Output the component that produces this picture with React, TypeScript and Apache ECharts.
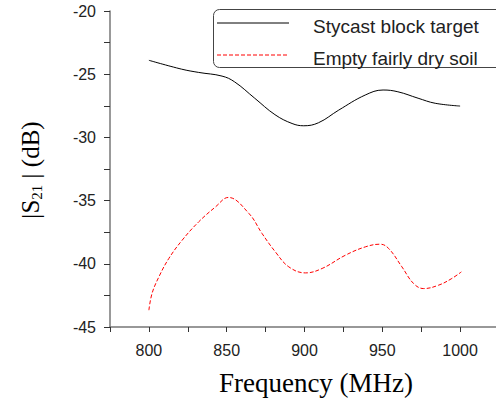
import React, { useEffect, useRef } from "react";
import * as echarts from "echarts";

const seriesNames = ["Stycast block target", "Empty fairly dry soil"];

const stycastFreq = [800, 821, 832, 847, 855, 868, 881, 892, 899.5, 909, 922, 939, 950.5, 960, 973, 984, 1000];
const stycastVals = [-23.9, -24.6, -24.86, -25.15, -25.6, -26.9, -28.2, -28.9, -29.08, -28.84, -27.84, -26.65, -26.25, -26.39, -26.9, -27.3, -27.52];

const soilFreq = [800, 802, 806.4, 812.8, 821.4, 832, 842.8, 851, 864.3, 872.7, 881.3, 889.9, 900.6, 911.3, 926.3, 939.1, 948.7, 954.1, 962.6, 970.1, 976.6, 986.2, 994.7, 1000.8];
const soilVals = [-43.67, -42.35, -41.04, -39.58, -38.13, -36.68, -35.5, -34.75, -36.02, -37.6, -39.06, -40.24, -40.72, -40.37, -39.32, -38.66, -38.45, -38.79, -40.24, -41.56, -41.96, -41.69, -41.16, -40.64];

const xTickLabels = [800, 850, 900, 950, 1000];
const yTickLabels = [-45, -40, -35, -30, -25, -20];

const sans = "'Liberation Sans', Arial, Helvetica, sans-serif";
const serif = "'Liberation Serif', 'Times New Roman', serif";

export default function App() {
  const ref = useRef<HTMLDivElement>(null);
  useEffect(() => {
    if (!ref.current) return;
    const chart = echarts.init(ref.current, undefined, { renderer: "svg" });
    const pair = (xs: number[], ys: number[]) => xs.map((x, i) => [x, ys[i]]);
    chart.setOption({
      animation: false,
      backgroundColor: "#fff",
      grid: { left: 110, top: 11, width: 389, height: 316, containLabel: false, outerBoundsMode: "none" },
      xAxis: {
        type: "value",
        min: 775,
        max: 1025,
        interval: 25,
        axisLine: { show: true, lineStyle: { color: "#777", width: 1.5 } },
        axisTick: { show: true, length: 5, lineStyle: { color: "#333", width: 1 } },
        splitLine: { show: false },
        axisLabel: {
          margin: 15,
          fontFamily: sans,
          fontSize: 16,
          color: "#222",
          formatter: (v: number) => (xTickLabels.includes(v) ? String(v) : ""),
        },
      },
      yAxis: {
        type: "value",
        min: -45,
        max: -20,
        interval: 2.5,
        axisLine: { show: true, lineStyle: { color: "#777", width: 1.5 } },
        axisTick: { show: true, length: 6, lineStyle: { color: "#333", width: 1 } },
        splitLine: { show: false },
        axisLabel: {
          margin: 14,
          fontFamily: sans,
          fontSize: 16,
          color: "#222",
          formatter: (v: number) => (yTickLabels.includes(v) ? String(v) : ""),
        },
      },
      series: [
        {
          name: seriesNames[0],
          type: "line",
          data: pair(stycastFreq, stycastVals),
          smooth: 0.4,
          symbol: "none",
          lineStyle: { color: "#000", width: 1 },
        },
        {
          name: seriesNames[1],
          type: "line",
          data: pair(soilFreq, soilVals),
          smooth: 0.4,
          symbol: "none",
          lineStyle: { color: "#ff0000", width: 1, type: [4, 2] },
        },
      ],
      graphic: [
        {
          type: "rect",
          shape: { x: 213.5, y: 9.5, width: 290, height: 58, r: 6 },
          style: { fill: "#fff", stroke: "#444", lineWidth: 1 },
          z: 10,
        },
        {
          type: "line",
          shape: { x1: 217, y1: 23, x2: 289, y2: 23 },
          style: { stroke: "#000", lineWidth: 1 },
          z: 11,
        },
        {
          type: "line",
          shape: { x1: 217, y1: 55, x2: 289, y2: 55 },
          style: { stroke: "#ff0000", lineWidth: 1, lineDash: [4, 2] },
          z: 11,
        },
        {
          type: "text",
          x: 313,
          y: 26,
          style: { text: seriesNames[0], fontFamily: sans, fontSize: 19, fill: "#222", textVerticalAlign: "middle" },
          z: 11,
        },
        {
          type: "text",
          x: 313,
          y: 58,
          style: { text: seriesNames[1], fontFamily: sans, fontSize: 19, fill: "#222", textVerticalAlign: "middle" },
          z: 11,
        },
        {
          type: "text",
          x: 316,
          y: 383,
          style: {
            text: "Frequency (MHz)",
            fontFamily: serif,
            fontSize: 27,
            fill: "#000",
            textAlign: "center",
            textVerticalAlign: "middle",
          },
        },
        {
          type: "text",
          x: 30,
          y: 170,
          rotation: Math.PI / 2,
          style: {
            text: "{n||S}{s|21}{n| | (dB)}",
            textAlign: "center",
            textVerticalAlign: "middle",
            rich: {
              n: { fontFamily: serif, fontSize: 25, fill: "#000", lineHeight: 28 },
              s: { fontFamily: serif, fontSize: 15, fill: "#000", verticalAlign: "bottom", lineHeight: 28 },
            },
          },
        },
      ],
    });
    return () => chart.dispose();
  }, []);
  return <div ref={ref} style={{ position: "fixed", left: 0, top: 0, width: 496, height: 402 }} />;
}
